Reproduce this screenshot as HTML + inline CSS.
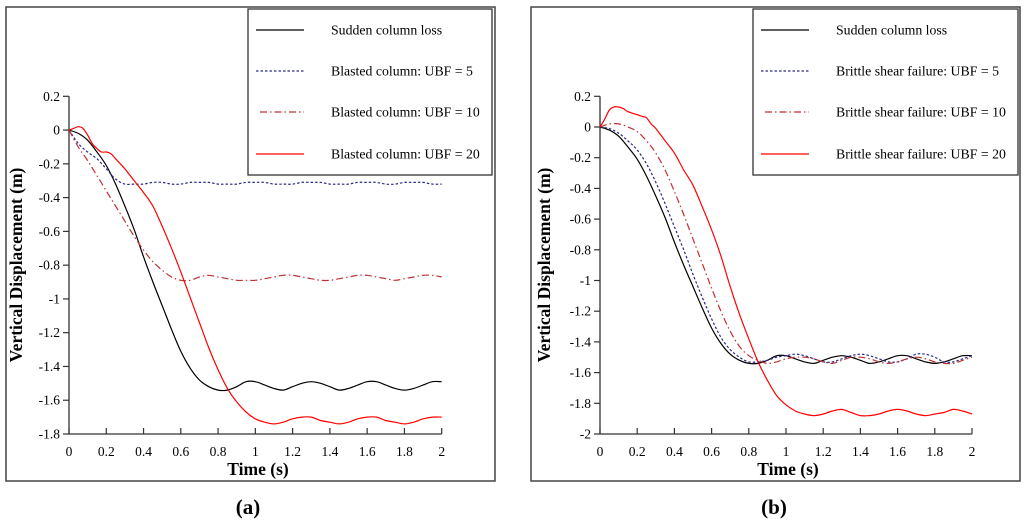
<!DOCTYPE html>
<html><head><meta charset="utf-8"><style>
body{margin:0;background:#fff;}
svg text{font-family:"Liberation Serif",serif;}
</style></head><body>
<svg id="fig" width="1024" height="519" viewBox="0 0 1024 519" xmlns="http://www.w3.org/2000/svg"></svg>
<script>
// ---- data: panel (a) ----
const tStd = [0,0.05,0.1,0.15,0.2,0.25,0.3,0.35,0.4,0.45,0.5,0.55,0.6,0.65,0.7,0.75,0.8,0.85,0.9,0.95,1,1.05,1.1,1.15,1.2,1.25,1.3,1.35,1.4,1.45,1.5,1.55,1.6,1.65,1.7,1.75,1.8,1.85,1.9,1.95,2];
const aSudden = [0,-0.02,-0.06,-0.13,-0.21,-0.32,-0.45,-0.59,-0.75,-0.9,-1.04,-1.18,-1.31,-1.41,-1.48,-1.52,-1.54,-1.54,-1.52,-1.49,-1.49,-1.51,-1.53,-1.54,-1.52,-1.5,-1.49,-1.5,-1.52,-1.54,-1.53,-1.51,-1.49,-1.49,-1.51,-1.53,-1.54,-1.53,-1.51,-1.49,-1.49];
const aUbf5 = [0,-0.08,-0.13,-0.17,-0.23,-0.29,-0.32,-0.32,-0.32,-0.31,-0.31,-0.32,-0.32,-0.31,-0.31,-0.31,-0.32,-0.32,-0.32,-0.31,-0.31,-0.31,-0.32,-0.32,-0.32,-0.31,-0.31,-0.31,-0.32,-0.32,-0.32,-0.31,-0.31,-0.31,-0.32,-0.32,-0.31,-0.31,-0.31,-0.32,-0.32];
const aUbf10 = [0,-0.1,-0.18,-0.27,-0.36,-0.45,-0.54,-0.63,-0.71,-0.78,-0.83,-0.87,-0.89,-0.89,-0.87,-0.86,-0.87,-0.88,-0.89,-0.89,-0.89,-0.88,-0.87,-0.86,-0.86,-0.87,-0.88,-0.89,-0.89,-0.88,-0.87,-0.86,-0.86,-0.87,-0.88,-0.89,-0.88,-0.87,-0.86,-0.86,-0.87];
const tRedA = [0,0.025,0.05,0.075,0.1,0.125,0.15,0.175,0.2,0.225,0.25,0.3,0.35,0.4,0.45,0.5,0.55,0.6,0.65,0.7,0.75,0.8,0.85,0.9,0.95,1,1.05,1.1,1.15,1.2,1.25,1.3,1.35,1.4,1.45,1.5,1.55,1.6,1.65,1.7,1.75,1.8,1.85,1.9,1.95,2];
const aUbf20 = [0,0.01,0.02,0.01,-0.03,-0.08,-0.11,-0.13,-0.13,-0.14,-0.17,-0.23,-0.3,-0.37,-0.45,-0.57,-0.7,-0.84,-0.99,-1.14,-1.29,-1.42,-1.53,-1.61,-1.67,-1.71,-1.73,-1.74,-1.73,-1.71,-1.7,-1.7,-1.72,-1.73,-1.74,-1.73,-1.71,-1.7,-1.7,-1.72,-1.73,-1.74,-1.73,-1.71,-1.7,-1.7];
// ---- data: panel (b) ----
const bSudden = aSudden;
const bUbf5 = [0,-0.01,-0.04,-0.09,-0.15,-0.24,-0.36,-0.5,-0.65,-0.8,-0.96,-1.11,-1.25,-1.37,-1.45,-1.5,-1.53,-1.53,-1.52,-1.5,-1.49,-1.48,-1.49,-1.51,-1.53,-1.53,-1.51,-1.49,-1.48,-1.49,-1.51,-1.53,-1.53,-1.51,-1.48,-1.48,-1.5,-1.53,-1.53,-1.51,-1.49];
const bUbf10 = [0,0.02,0.02,0,-0.03,-0.09,-0.17,-0.28,-0.42,-0.57,-0.73,-0.89,-1.05,-1.2,-1.33,-1.43,-1.49,-1.52,-1.54,-1.53,-1.51,-1.5,-1.5,-1.51,-1.53,-1.54,-1.52,-1.5,-1.5,-1.51,-1.53,-1.54,-1.53,-1.51,-1.5,-1.51,-1.53,-1.54,-1.54,-1.52,-1.5];
const tRedB = [0,0.025,0.05,0.075,0.1,0.125,0.15,0.2,0.225,0.25,0.275,0.3,0.35,0.4,0.45,0.5,0.55,0.6,0.65,0.7,0.75,0.8,0.85,0.9,0.95,1,1.05,1.1,1.15,1.2,1.25,1.3,1.35,1.4,1.45,1.5,1.55,1.6,1.65,1.7,1.75,1.8,1.85,1.9,1.95,2];
const bUbf20 = [0,0.05,0.11,0.13,0.13,0.12,0.1,0.08,0.07,0.06,0.02,-0.01,-0.09,-0.17,-0.28,-0.38,-0.52,-0.67,-0.84,-1.04,-1.22,-1.38,-1.53,-1.65,-1.75,-1.81,-1.85,-1.87,-1.88,-1.87,-1.85,-1.84,-1.86,-1.88,-1.88,-1.87,-1.85,-1.84,-1.85,-1.87,-1.88,-1.87,-1.86,-1.84,-1.85,-1.87];
const xTicks = [0,0.2,0.4,0.6,0.8,1,1.2,1.4,1.6,1.8,2];
const xTickLabels = ["0","0.2","0.4","0.6","0.8","1","1.2","1.4","1.6","1.8","2"];
const yTicksA = [0.2,0,-0.2,-0.4,-0.6,-0.8,-1,-1.2,-1.4,-1.6,-1.8];
const yTicksB = [0.2,0,-0.2,-0.4,-0.6,-0.8,-1,-1.2,-1.4,-1.6,-1.8,-2];
const legendA = ["Sudden column loss","Blasted column: UBF = 5","Blasted column: UBF = 10","Blasted column: UBF = 20"];
const legendB = ["Sudden column loss","Brittle shear failure: UBF = 5","Brittle shear failure: UBF = 10","Brittle shear failure: UBF = 20"];

const NS="http://www.w3.org/2000/svg";
const svg=document.getElementById('fig');
function mk(tag,attrs,parent){const e=document.createElementNS(NS,tag);for(const k in attrs)e.setAttribute(k,attrs[k]);(parent||svg).appendChild(e);return e;}
const styles=[
 {stroke:"#000",dash:""},
 {stroke:"#2a2a8a",dash:"2.5,2"},
 {stroke:"#c03030",dash:"7,3,1.5,3"},
 {stroke:"#ff0000",dash:""}];

function smooth(pts){
  let d=`M${pts[0][0].toFixed(1)},${pts[0][1].toFixed(1)}`;
  for(let i=0;i<pts.length-1;i++){
    const p0=pts[Math.max(0,i-1)],p1=pts[i],p2=pts[i+1],p3=pts[Math.min(pts.length-1,i+2)];
    const c1x=p1[0]+(p2[0]-p0[0])/6,c1y=p1[1]+(p2[1]-p0[1])/6;
    const c2x=p2[0]-(p3[0]-p1[0])/6,c2y=p2[1]-(p3[1]-p1[1])/6;
    d+=`C${c1x.toFixed(1)},${c1y.toFixed(1)} ${c2x.toFixed(1)},${c2y.toFixed(1)} ${p2[0].toFixed(1)},${p2[1].toFixed(1)}`;
  }
  return d;
}

function panel(P){
  const g=mk('g',{});
  
  
  const fr=mk('rect',{x:P.fx,y:7,width:P.fw,height:474,fill:"none",stroke:"#444","stroke-width":1.5},g);
  
  const xs=v=>P.x0+(v-0)/2*(P.x1-P.x0);
  const ys=v=>P.yTop+(0.2-v)/(0.2-P.ymin)*(P.yBot-P.yTop);
  const ax=mk('path',{d:`M${P.x0},${P.yTop}V${P.yBot}H${P.x1}`,fill:"none",stroke:"#333","stroke-width":1.3},g);
  
  P.yt.forEach(v=>{
    mk('line',{x1:P.x0-6,x2:P.x0,y1:ys(v),y2:ys(v),stroke:"#333","stroke-width":1.2},g);
    const t=mk('text',{x:P.x0-9,y:ys(v)+4.5,"text-anchor":"end","font-size":13.5},g);
    
    t.textContent=String(v);
  });
  xTicks.forEach((v,i)=>{
    mk('line',{x1:xs(v),x2:xs(v),y1:P.yBot-6,y2:P.yBot,stroke:"#333","stroke-width":1.2},g);
    const t=mk('text',{x:xs(v),y:P.yBot+22,"text-anchor":"middle","font-size":13.5},g);
    
    t.textContent=xTickLabels[i];
  });
  const xt=mk('text',{x:P.xtc,y:475,"text-anchor":"middle","font-size":17.5,"font-weight":"bold"},g);
  
  xt.textContent="Time (s)";
  const yt=mk('text',{x:0,y:0,"text-anchor":"middle","font-size":17.5,"font-weight":"bold",transform:`translate(${P.ytx},265) rotate(-90)`},g);
  
  yt.textContent="Vertical Displacement (m)";
  P.series.forEach((s,i)=>{
    const pts=s.t.map((tv,j)=>[xs(tv),ys(s.v[j])]);
    const p=mk('path',{d:smooth(pts),fill:"none",stroke:styles[i].stroke,"stroke-width":1.2,"stroke-dasharray":styles[i].dash,"stroke-linejoin":"round"},g);
    
  });
  const lg=mk('g',{},g);
  
  mk('rect',{x:P.lx,y:9,width:P.lw,height:166,fill:"#fff",stroke:"#333","stroke-width":1.3},lg);
  const ly=[30,71,112,154];
  P.leg.forEach((txt,i)=>{
    const e=mk('g',{},lg);
    
    mk('line',{x1:P.lx+8+(i==2?4:0),x2:P.lx+56,y1:ly[i],y2:ly[i],stroke:styles[i].stroke,"stroke-width":1.2,"stroke-dasharray":styles[i].dash},e);
    const t=mk('text',{x:P.ltx,y:ly[i]+4.5,"font-size":13.8},e);
    t.textContent=txt;
  });
  const c=mk('text',{x:P.cap,y:514,"text-anchor":"middle","font-size":21,"font-weight":"bold"},g);
  
  c.textContent=P.capText;
}
panel({name:"panel-a",fx:6,fw:489,x0:69,x1:441.7,yTop:96.3,yBot:434,ymin:-1.8,yt:yTicksA,xtc:258,ytx:22,
  lx:248,lw:244,ltx:331,leg:legendA,cap:248,capText:"(a)",
  series:[{t:tStd,v:aSudden},{t:tStd,v:aUbf5},{t:tStd,v:aUbf10},{t:tRedA,v:aUbf20}]});
panel({name:"panel-b",fx:531,fw:489,x0:600,x1:972,yTop:96.3,yBot:434,ymin:-2,yt:yTicksB,xtc:788,ytx:550,
  lx:753,lw:265,ltx:836,leg:legendB,cap:774,capText:"(b)",
  series:[{t:tStd,v:bSudden},{t:tStd,v:bUbf5},{t:tStd,v:bUbf10},{t:tRedB,v:bUbf20}]});
</script>
</body></html>
